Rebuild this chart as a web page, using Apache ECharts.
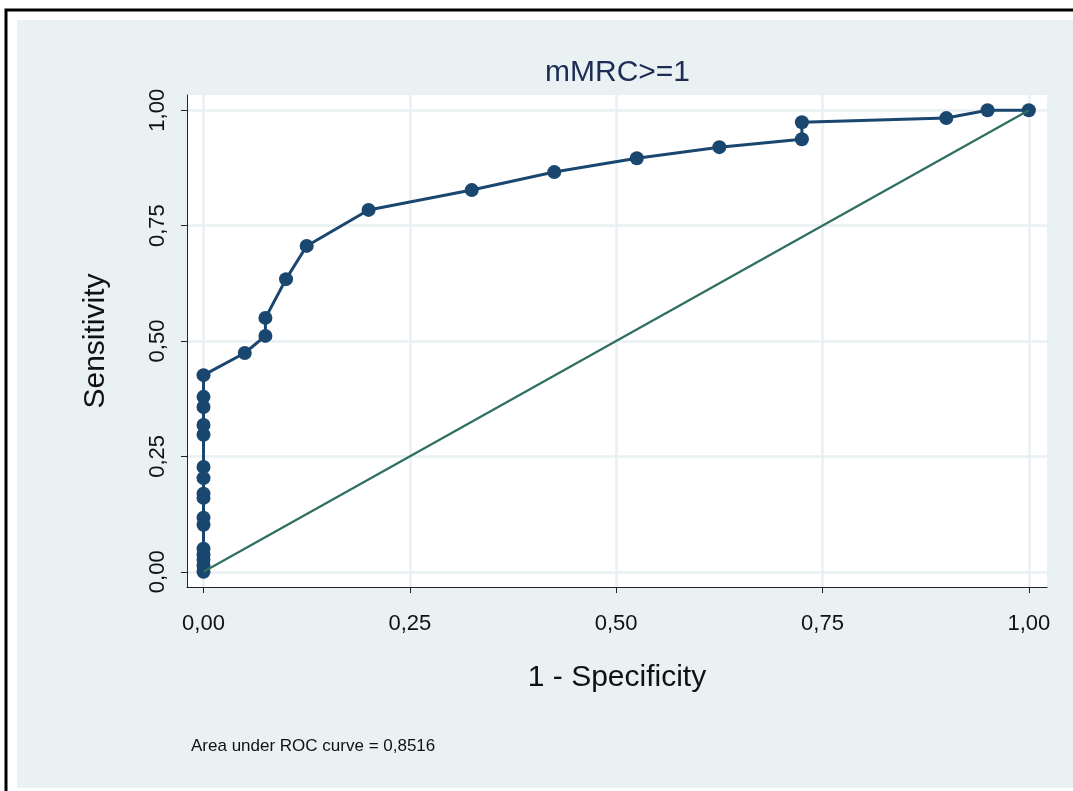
<!DOCTYPE html>
<html>
<head>
<meta charset="utf-8">
<script src="https://cdn.jsdelivr.net/npm/echarts@6/dist/echarts.min.js"></script>
<style>
  html, body { margin: 0; padding: 0; background: #fff; }
  #main { width: 1073px; height: 791px; }
</style>
</head>
<body>
<div id="main"></div>
<script>
// ROC points: 1 - specificity / sensitivity
const fpr = [0, 0, 0, 0, 0, 0, 0, 0, 0, 0, 0, 0, 0, 0, 0, 0,
  0.05, 0.075, 0.075, 0.1, 0.125, 0.2, 0.325, 0.425, 0.525, 0.625, 0.725, 0.725, 0.9, 0.95, 1];
const sens = [0, 0.013, 0.026, 0.037, 0.05, 0.102, 0.117, 0.16, 0.169, 0.203, 0.227, 0.297, 0.318, 0.357, 0.379, 0.426,
  0.474, 0.511, 0.55, 0.634, 0.706, 0.784, 0.827, 0.866, 0.896, 0.92, 0.937, 0.974, 0.983, 1, 1];
const refLine = [[0, 0], [1, 1]];
const tickValues = [0, 0.25, 0.5, 0.75, 1];
const chartTitle = 'mMRC>=1';
const aucNote = 'Area under ROC curve = 0,8516';

const font = 'Liberation Sans, Arial, sans-serif';
const navy = '#1a476f';
const fmt = v => v.toFixed(2).replace('.', ',');

const chart = echarts.init(document.getElementById('main'));

const axisCommon = {
  type: 'value',
  nameLocation: 'middle',
  axisLine: { show: true, onZero: false, lineStyle: { color: '#222', width: 1 } },
  axisTick: { show: true, length: 6, customValues: tickValues, lineStyle: { color: '#222' } },
  axisLabel: { customValues: tickValues, formatter: fmt, color: '#111', fontSize: 22, fontFamily: font },
  splitLine: { show: true, lineStyle: { color: '#e9f1f3', width: 2.5 } },
  nameTextStyle: { color: '#111', fontSize: 30, fontFamily: font }
};

const option = {
  animation: false,
  title: {
    text: chartTitle,
    left: 540,
    top: 53,
    textStyle: { color: '#1c2c54', fontSize: 30, fontWeight: 'normal', fontFamily: font }
  },
  graphic: [
    {
      type: 'rect', z: -20, silent: true,
      shape: { x: 6, y: 10, width: 1200, height: 1000 },
      style: { fill: '#fff', stroke: '#000', lineWidth: 3 }
    },
    {
      type: 'rect', z: -19, silent: true,
      shape: { x: 17, y: 20, width: 1100, height: 768 },
      style: { fill: '#e9f1f3' }
    },
    {
      type: 'text', left: 191, top: 738,
      style: { text: aucNote, fill: '#111', fontSize: 17, fontFamily: font }
    }
  ],
  grid: {
    left: 187, right: 26, top: 95, bottom: 204,
    show: true, backgroundColor: '#fff', borderWidth: 0
  },
  xAxis: Object.assign({}, axisCommon, {
    min: -0.02, max: 1.022,
    name: '1 - Specificity', nameGap: 76,
    axisLabel: Object.assign({}, axisCommon.axisLabel, { margin: 26 })
  }),
  yAxis: Object.assign({}, axisCommon, {
    min: -0.033, max: 1.033,
    name: 'Sensitivity', nameGap: 76,
    axisLabel: Object.assign({}, axisCommon.axisLabel, { rotate: 90, margin: 18 })
  }),
  series: [
    {
      type: 'line',
      data: fpr.map((x, i) => [x, sens[i]]),
      symbol: 'circle',
      symbolSize: 14,
      lineStyle: { color: navy, width: 3 },
      itemStyle: { color: navy },
      z: 2
    },
    {
      type: 'line',
      data: refLine,
      symbol: 'none',
      lineStyle: { color: '#2f6f62', width: 2.2 },
      z: 3
    }
  ]
};

chart.setOption(option);
</script>
</body>
</html>
